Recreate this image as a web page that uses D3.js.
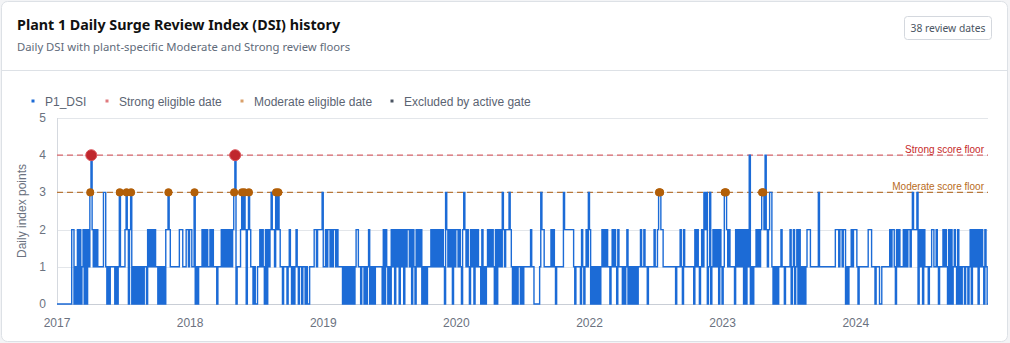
<!DOCTYPE html>
<html>
<head>
<meta charset="utf-8">
<script src="https://cdn.jsdelivr.net/npm/d3@7"></script>
<style>
body{margin:0;background:#f3f4f6;}
svg{display:block;}
</style>
</head>
<body>
<script>
////Data
var startDate = "2017-01-01" //first day of the daily series
var blockDays = 4 //each character of dsiBlocks holds the DSI for this many days

//Daily DSI, one string per label period
var dsiBlocks = [
    "0000000000"+"0002201020"+"2012020213"+"4212121111"+"1331010111"+"1010131111"+"2320230101"+"0101010110"+"2121212110"+"1010102232"+"1111111122"+"21112212",
    "2113010111"+"2121211212"+"1110111212"+"1212121234"+"0111232320"+"2321101001"+"1212102021"+"2322132321"+"1011101210"+"1012101101"+"1010011112"+"2122223",
    "1121221212"+"2121111010"+"1010101012"+"2110110101"+"2010101111"+"1102021010"+"2120212021"+"2021221202"+"1021212010"+"1011121212"+"1212121032"+"12120212",
    "2121023212"+"1021202121"+"1020101212"+"1210202121"+"3212223210"+"1010110101"+"1111121100"+"0001322111"+"1112121011"+"1111322222"+"2221011110"+"2101213",
    "2010101010"+"1212121101"+"2121021110"+"1012010101"+"0101121121"+"1011111211"+"2332211111"+"1111110111"+"2102111111"+"1102121012"+"1323013012"+"1212021",
    "0133212111"+"1021212120"+"2021401011"+"2121233242"+"1233101010"+"1121101111"+"2012012020"+"1010122211"+"1111131111"+"1111111111"+"2221221220"+"10112122",
    "2101111111"+"1222111011"+"1001111111"+"2122102121"+"1121212212"+"3222302120"+"2111011221"+"1210111212"+"1020201210"+"2010110110"+"1202121202"+"1210210"
]

var strongDates = ["2017-05-02","2018-09-22"] //Strong eligible dates

var moderateDates = [ //Moderate eligible dates
    "2017-04-28","2017-04-29","2017-08-10","2017-08-11","2017-09-03","2017-09-04",
    "2017-09-19","2017-09-20","2018-01-29","2018-01-30","2018-05-01","2018-05-02",
    "2018-09-18","2018-09-19","2018-10-16","2018-10-17","2018-10-24","2018-10-25",
    "2018-11-09","2018-11-10","2019-02-13","2019-02-14","2019-02-21","2019-02-22",
    "2022-10-27","2022-10-28","2022-10-31","2022-11-01","2023-06-16","2023-06-17",
    "2023-06-20","2023-06-21","2023-10-26","2023-10-27","2023-10-30","2023-10-31"
]

var floorNames = ["Strong score floor","Moderate score floor"]
var floorValues = [4,3]

var yTicks = [0,1,2,3,4,5]
var labelEvery = 470 //category label interval on the x axis

var legendNames = ["P1_DSI","Strong eligible date","Moderate eligible date","Excluded by active gate"]

////Building the daily series
var parseDate = d3.utcParse("%Y-%m-%d")
var start = parseDate(startDate)
var dsi = [] //one object per day
dsiBlocks.join("").split("").forEach(function(c){
    for(var k=0;k<blockDays;k++){
        dsi.push({date: d3.utcDay.offset(start, dsi.length), value: +c})
    }
})
var N = dsi.length
function dayIndex(s){ return d3.utcDay.count(start, parseDate(s)) }

////Layout
var W = 1010, H = 343
var headFont = "'Noto Sans',sans-serif"
var svg = d3.select("body").append("svg").attr("width",W).attr("height",H)
    .style("font-family","'Liberation Sans', Arial, sans-serif")

//Card
svg.append("rect").attr("x",1.5).attr("y",1.5).attr("width",W-4).attr("height",H-3)
    .attr("rx",6).attr("fill","#fff").attr("stroke","#dde1e6")
svg.append("line").attr("x1",2).attr("x2",W-3).attr("y1",70.5).attr("y2",70.5).attr("stroke","#dde1e6")

//Title and subtitle
svg.append("text").attr("x",17).attr("y",30).text("Plant 1 Daily Surge Review Index (DSI) history")
    .style("font-family",headFont).attr("font-weight","bold").attr("font-size","14.3px").attr("fill","#111")
svg.append("text").attr("x",17).attr("y",51).text("Daily DSI with plant-specific Moderate and Strong review floors")
    .style("font-family",headFont).attr("font-size","11.3px").attr("fill","#5f6b7a")

//Badge
var badge = svg.append("g").attr("transform","translate(904.5,16.5)")
badge.append("rect").attr("width",87).attr("height",23).attr("rx",3).attr("fill","#fff").attr("stroke","#d4d8de")
badge.append("text").attr("x",43.5).attr("y",15.5).attr("text-anchor","middle")
    .style("font-family",headFont).attr("font-size","10.3px").attr("fill","#4a5563")
    .text((strongDates.length+moderateDates.length)+" review dates")

////Scales
var x = d3.scaleLinear().domain([0,N-1]).range([57,988])
var y = d3.scaleLinear().domain([0,5]).range([304,118])

//Grid
svg.append("g").selectAll("line").data(yTicks).enter().append("line")
    .attr("x1",57).attr("x2",988)
    .attr("y1",function(d){return Math.round(y(d))+0.5}).attr("y2",function(d){return Math.round(y(d))+0.5})
    .attr("stroke",function(d){return d==0 ? "#c9ced6" : "#e3e6ea"})
svg.append("line").attr("x1",57.5).attr("x2",57.5).attr("y1",118).attr("y2",304).attr("stroke","#d5d9df")

//Y tick labels
svg.append("g").selectAll("text").data(yTicks).enter().append("text")
    .attr("x",46).attr("y",function(d){return y(d)+4}).attr("text-anchor","end")
    .attr("font-size","12px").attr("fill","#6b7280").text(function(d){return d})

//Y axis title
svg.append("text").attr("transform","translate(26,211) rotate(-90)").attr("text-anchor","middle")
    .attr("font-size","12px").attr("fill","#6b7280").text("Daily index points")

//X tick labels
var xTickIdx = d3.range(0,N,labelEvery)
svg.append("g").selectAll("text").data(xTickIdx).enter().append("text")
    .attr("x",function(d){return x(d)}).attr("y",327).attr("text-anchor","middle")
    .attr("font-size","12px").attr("fill","#6b7280")
    .text(function(d){return d3.utcFormat("%Y")(dsi[d].date)})

////Floors
var floorColors = ["#d9666b","#b9783a"]
var floorText = ["#c62828","#b86b1b"]
floorValues.forEach(function(v,i){
    svg.append("line").attr("x1",57).attr("x2",988).attr("y1",y(v)).attr("y2",y(v))
        .attr("stroke",floorColors[i]).attr("stroke-width",1.2).attr("stroke-dasharray","6,4")
    svg.append("text").attr("x",984).attr("y",y(v)-2).attr("text-anchor","end")
        .attr("font-size","10px").attr("fill",floorText[i]).text(floorNames[i])
})

////Series
var line = d3.line().curve(d3.curveStepAfter)
    .x(function(d,i){return x(i)}).y(function(d){return y(d.value)})
svg.append("path").datum(dsi).attr("d",line)
    .attr("fill","none").attr("stroke","#1c6bd6").attr("stroke-width",1.4)

////Markers
svg.append("g").selectAll("circle").data(moderateDates).enter().append("circle")
    .attr("cx",function(d){return x(dayIndex(d))}).attr("cy",function(d){return y(dsi[dayIndex(d)].value)})
    .attr("r",3.8).attr("fill","#b25f08")
svg.append("g").selectAll("circle").data(strongDates).enter().append("circle")
    .attr("cx",function(d){return x(dayIndex(d))}).attr("cy",function(d){return y(dsi[dayIndex(d)].value)})
    .attr("r",5.5).attr("fill","#c0272d").attr("stroke","#d9535a").attr("stroke-width",1)

////Legend
var legendColors = ["#1c6bd6","#e07a7e","#d9a06a","#4b5563"]
var legendX = [33,107,242,392]
legendNames.forEach(function(n,i){
    var g = svg.append("g").attr("transform","translate("+legendX[i]+",101)")
    g.append("rect").attr("x",-1.5).attr("y",-1.5).attr("width",3).attr("height",3).attr("fill",legendColors[i])
    g.append("text").attr("x",12).attr("y",4.5).attr("font-size","12px").attr("fill","#5b6472").text(n)
})
</script>
</body>
</html>
